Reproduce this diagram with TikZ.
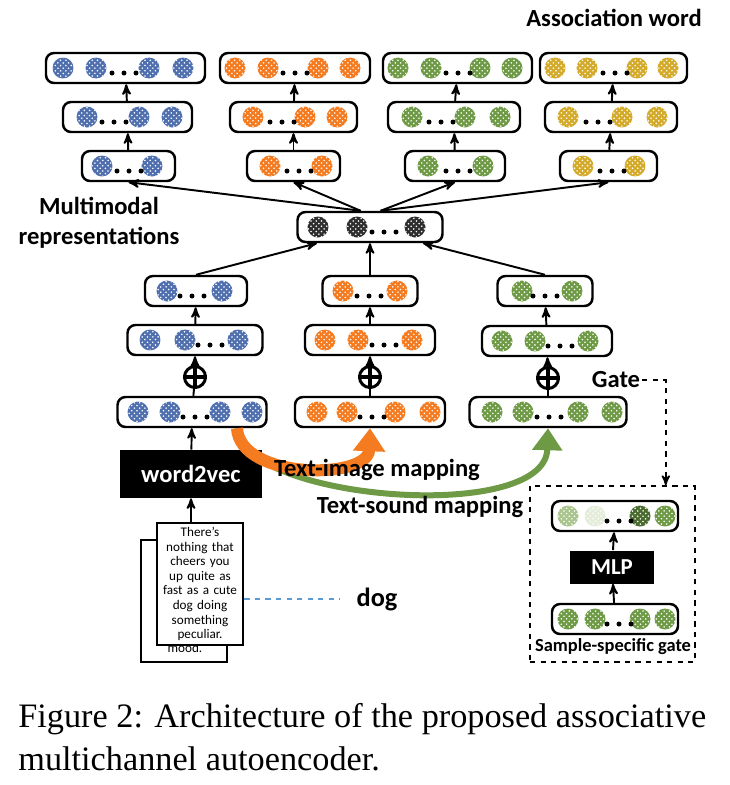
\documentclass[tikz,border=0pt]{standalone}
\usepackage{fontspec}
\setmainfont{Liberation Serif}
\setsansfont{Carlito}
\usepackage{tikz}
\usepackage{xcolor}
\usetikzlibrary{arrows,arrows.meta,patterns}

\definecolor{nblue}{HTML}{4F6FAE}
\definecolor{norange}{HTML}{F47B20}
\definecolor{ngreen}{HTML}{6E9A45}
\definecolor{ngold}{HTML}{D4AA2A}
\definecolor{ndark}{HTML}{2E2E2E}
\definecolor{glight}{HTML}{A9C48C}
\definecolor{gpale}{HTML}{E4ECDA}
\definecolor{gdark}{HTML}{4A6B2E}
\definecolor{dashblue}{HTML}{5B9BD5}

\tikzset{
    >=stealth', % Default arrow tip
    vecbox/.style={draw, line width=1.4pt, rounded corners=0.16cm,
        minimum height=0.6cm, inner sep=0pt},
    neuron/.style={circle, inner sep=0pt, minimum size=0.42cm, fill=#1,
        postaction={pattern=crosshatch dots, pattern color=white}},
    dot/.style={circle, fill=black, inner sep=0pt, minimum size=0.1cm},
    oplus/.style={circle, draw, line width=1.7pt, minimum size=0.42cm, inner sep=0pt},
    blackbox/.style={fill=black, text=white, inner sep=0pt,
        font=\sffamily\bfseries\fontsize{14}{16}\selectfont},
    lbl/.style={font=\sffamily\bfseries\fontsize{14}{16}\selectfont, inner sep=1pt},
    link/.style={line width=1.1pt}
}

% one row of units: name, x, y, box width, colour, unit x list, first dot x
\newcommand{\vecrow}[7]{
    \node [vecbox, minimum width=#4*0.02cm] (#1) at (#2,#3) {};
    \foreach \cx [count=\i] in {#6}
        \node [neuron=#5] (#1-\i) at (\cx,#3) {};
    \foreach \k in {0,1,2}
        \node [dot] (#1-d\k) at (#7+12*\k,#3+5) {};
}

\begin{document}
\begin{tikzpicture}[x=0.02cm, y=-0.02cm]
    \useasboundingbox (0,0) rectangle (730,785);

    % association words
    \vecrow{a3}{125.5}{68}{159}{nblue}{63,96,149,183}{112}
    \vecrow{a2}{127.5}{117}{129}{nblue}{87,139,172}{102}
    \vecrow{a1}{128.5}{166}{93}{nblue}{102,152}{117}
    \vecrow{b3}{295}{68}{150}{norange}{235,268,318,350}{283}
    \vecrow{b2}{293.5}{117}{127}{norange}{253,305,337}{270}
    \vecrow{b1}{293.5}{166}{93}{norange}{270,322}{287}
    \vecrow{c3}{457.5}{68}{149}{ngreen}{398,431,480,512}{446}
    \vecrow{c2}{454}{117}{132}{ngreen}{412,465,500}{429}
    \vecrow{c1}{455}{166}{100}{ngreen}{428,483}{446}
    \vecrow{d3}{613.5}{68}{147}{ngold}{555,587,637,668}{603}
    \vecrow{d2}{611}{117}{132}{ngold}{568,622,657}{586}
    \vecrow{d1}{608.5}{166}{97}{ngold}{583,635}{600}
    \node [lbl] (assoc) at (614,18) {Association word};

    % multimodal layer
    \vecrow{mm}{370}{227}{145}{ndark}{318,357,415}{372}
    \node [lbl, align=center, font=\sffamily\bfseries\fontsize{14}{17}\selectfont]
        (mmtxt) at (99,223) {Multimodal\\representations};

    % text / image / sound channels
    \vecrow{ta3}{196}{291}{102}{nblue}{167,222}{180}
    \vecrow{ta2}{195}{340}{135}{nblue}{150,185,238}{198}
    \vecrow{ta1}{192}{412}{149}{nblue}{138,170,220,252}{183}
    \vecrow{tb3}{370}{291}{95}{norange}{343,397}{357}
    \vecrow{tb2}{370}{340}{130}{norange}{325,358,412}{372}
    \vecrow{tb1}{370}{412}{150}{norange}{317,347,395,430}{360}
    \vecrow{tc3}{545}{291}{95}{ngreen}{522,572}{533}
    \vecrow{tc2}{547}{341}{130}{ngreen}{502,535,588}{548}
    \vecrow{tc1}{548}{412}{157}{ngreen}{492,523,578,612}{537}

    \node [oplus] (pa) at (195,377) {};
    \node [oplus] (pb) at (370,377) {};
    \node [oplus] (pc) at (548,378) {};
    \draw [line width=2.2pt] (pa.north) -- (pa.south) (pa.west) -- (pa.east);
    \draw [line width=2.2pt] (pb.north) -- (pb.south) (pb.west) -- (pb.east);
    \draw [line width=2.2pt] (pc.north) -- (pc.south) (pc.west) -- (pc.east);

    \draw [link, ->] (a1) -- (a2);
    \draw [link, ->] (a2) -- (a3);
    \draw [link, ->] (b1) -- (b2);
    \draw [link, ->] (b2) -- (b3);
    \draw [link, ->] (c1) -- (c2);
    \draw [link, ->] (c2) -- (c3);
    \draw [link, ->] (d1) -- (d2);
    \draw [link, ->] (d2) -- (d3);

    \draw [link, ->] (mm.120) -- (a1.south);
    \draw [link, ->] (mm.120) -- (b1.south);
    \draw [link, ->] (mm.57) -- (c1.south);
    \draw [link, ->] (mm.57) -- (d1.south);

    \draw [link, ->] (ta3.north) -- (mm.197);
    \draw [link, ->] (tb3.north) -- (mm.south);
    \draw [link, ->] (tc3.north) -- (mm.343);

    \draw [link] (ta1) -- (pa);
    \draw [link, ->] (pa) -- (ta2);
    \draw [link, ->] (ta2) -- (ta3);
    \draw [link] (tb1) -- (pb);
    \draw [link, ->] (pb) -- (tb2);
    \draw [link, ->] (tb2) -- (tb3);
    \draw [link] (tc1) -- (pc);
    \draw [link, ->] (pc) -- (tc2);
    \draw [link, ->] (tc2) -- (tc3);

    % input text
    \node [blackbox, minimum width=2.84cm, minimum height=0.96cm] (w2v) at (191,474) {word2vec};
    \draw [link, ->] (w2v) -- (ta1);

    \node [draw, line width=1.6pt, minimum width=1.72cm, minimum height=2.44cm] (docback) at (184,601) {};
    \node [font=\sffamily\fontsize{7.5}{8.3}\selectfont, inner sep=0pt] (moodtxt) at (185,648) {mood.};
    \node [draw, fill=white, line width=1.6pt, minimum width=1.72cm, minimum height=2.44cm,
        text width=1.6cm, align=center, inner sep=1pt,
        font=\sffamily\fontsize{7.5}{8.3}\selectfont] (docfront) at (200,584)
        {There's\\nothing that\\cheers you\\up quite as\\fast as a cute\\dog doing\\something\\peculiar.};
    \draw [link, ->] (w2v.south |- docfront.north) -- (w2v.south);

    \node [font=\sffamily\bfseries\fontsize{15}{17}\selectfont] (dog) at (377,599) {dog};
    \draw [dashblue, dashed, line width=1pt, shorten >=6pt] (docfront.east |- dog.west) -- (dog.west);

    % mappings
    \draw [ngreen, line width=0.12cm, -{Triangle[width=0.58cm, length=0.44cm]}]
        ([xshift=0.9cm]ta1.south) .. controls (240,500) and (545,525) .. (tc1.south);
    \draw [norange, line width=0.24cm, -{Triangle[width=0.62cm, length=0.46cm]}]
        ([xshift=0.9cm]ta1.south) .. controls (240,480) and (368,480) .. (tb1.south);
    \node [lbl] (timg) at (377,470) {Text-image mapping};
    \node [lbl] (tsnd) at (420,507) {Text-sound mapping};

    % gate
    \node [draw, dashed, line width=0.9pt, minimum width=3.3cm, minimum height=3.52cm] (gbox) at (612.5,574) {};
    \vecrow{g1}{615}{619}{126}{ngreen}{568,595,640,665}{607}
    \node [vecbox, minimum width=126*0.02cm] (g2) at (615,516) {};
    \node [neuron=glight] (g2-1) at (568,516) {};
    \node [neuron=gpale] (g2-2) at (595,516) {};
    \node [neuron=gdark] (g2-3) at (640,516) {};
    \node [neuron=ngreen] (g2-4) at (665,516) {};
    \node [dot] (g2-d0) at (607,521) {};
    \node [dot] (g2-d1) at (619,521) {};
    \node [dot] (g2-d2) at (631,521) {};
    \node [blackbox, minimum width=1.7cm, minimum height=0.66cm,
        font=\sffamily\bfseries\fontsize{13}{15}\selectfont] (mlp) at (612,567) {MLP};
    \draw [link, ->] (g1) -- (mlp);
    \draw [link, ->] (mlp) -- (g2);
    \node [font=\sffamily\bfseries\fontsize{10.5}{12}\selectfont] (sgtxt) at (613,647) {Sample-specific gate};
    \node [lbl] (gate) at (616,380) {Gate};
    \draw [dashed, line width=1pt, ->] (gate.east) -| ([xshift=-0.6cm]gbox.north east);

    % caption
    \node [anchor=base west, inner sep=0pt, font=\fontsize{19.5}{24}\selectfont] (capa) at (18,727)
        {Figure 2: Architecture of the proposed associative};
    \node [anchor=base west, inner sep=0pt, font=\fontsize{19.5}{24}\selectfont] (capb) at (18,770)
        {multichannel autoencoder.};
\end{tikzpicture}
\end{document}
